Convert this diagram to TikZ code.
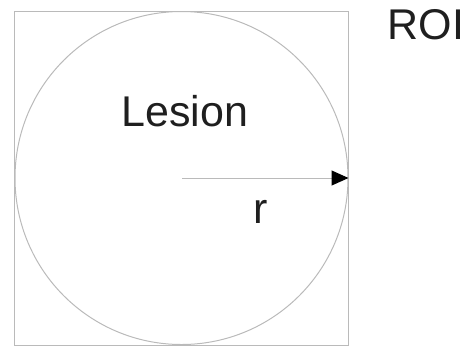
\documentclass[tikz,border=0pt]{standalone}
\usepackage{fontspec}
\setmainfont{Liberation Sans}
\usetikzlibrary{arrows.meta}
\begin{document}
\begin{tikzpicture}[x=1bp,y=-1bp,
  outline/.style={draw=black!27, line width=1bp, inner sep=0pt},
  label/.style={font=\fontsize{43bp}{50bp}\selectfont, inner sep=0pt, anchor=base, text=black!88}]
  \useasboundingbox (0,0) rectangle (470,347);
  % region of interest (square) and lesion (inscribed circle)
  \node[outline, rectangle, minimum width=333bp, minimum height=334bp] (roi) at (181.5,178) {};
  \node[outline, circle, minimum size=333bp] (lesion) at (181.5,178) {};
  \coordinate (c) at (182,178);
  % radius arrow
  \draw[draw=black!27, line width=1bp, -{Triangle[length=17bp,width=15bp,color=black]}] (c) -- (lesion.east);
  % labels
  \node[label] (tl) at (185,126) {Lesion};
  \node[label] (tr) at (261,223) {r};
  \node[label] (troi) at (426,39) {ROI};
\end{tikzpicture}
\end{document}
